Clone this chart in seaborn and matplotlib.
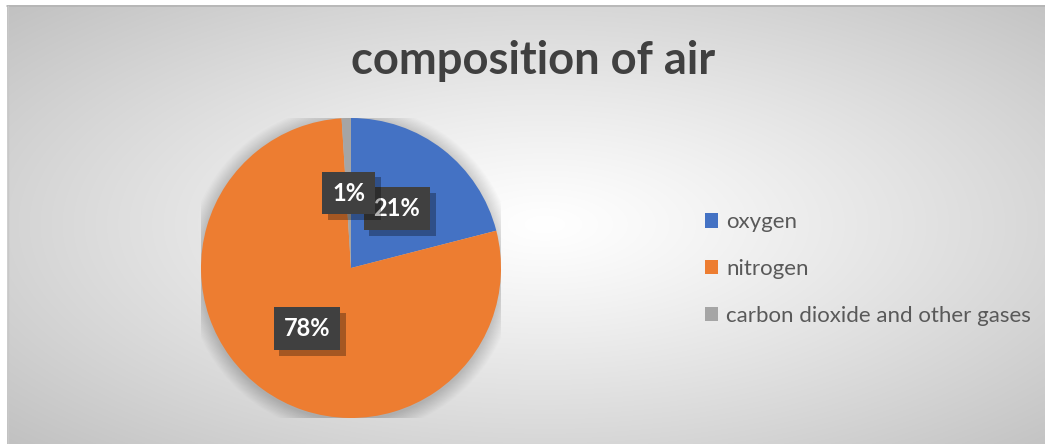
import numpy as np
import matplotlib
matplotlib.use("Agg")
import matplotlib.pyplot as plt
import matplotlib.patheffects as pe
from matplotlib.patches import Patch, Circle
import seaborn as sns

# ---- data ----
categories = ["oxygen", "nitrogen", "carbon dioxide and other gases"]
values = [21, 78, 1]
colors = ["#4472C4", "#ED7D31", "#A5A5A5"]
title = "composition of air"

sns.set_theme(style="white")
plt.rcParams["font.family"] = ["Lato", "DejaVu Sans"]

W, H = 1045, 444
fig = plt.figure(figsize=(W / 100, H / 100), dpi=100)
fig.patch.set_facecolor("white")

# background radial gradient (chart area)
bg = fig.add_axes([0, 0, 1, 1])
bg.set_xlim(0, W)
bg.set_ylim(H, 0)
bg.axis("off")
x0, y0, x1, y1 = 7, 6, W, H
xs = np.arange(x0, x1) + 0.5
ys = np.arange(y0, y1) + 0.5
X, Y = np.meshgrid(xs, ys)
cx, cy, ax_, ay_ = 545, 225, 520, 225
d = np.sqrt(((X - cx) / ax_) ** 2 + ((Y - cy) / ay_) ** 2) / 1.42
d = np.clip(d, 0, 1) ** 1.15
v = (255 - (255 - 193) * d) / 255.0
img = np.dstack([v, v, v])
bg.imshow(img, extent=(x0, x1, y1, y0), interpolation="bilinear", aspect="auto")
bg.plot([x0, x1], [y0 + 0.5, y0 + 0.5], color="#b4b4b4", lw=1.2)
bg.plot([x0 + 0.5, x0 + 0.5], [y0, y1], color="#c8c8c8", lw=1.0)

# pie axes
cxp, cyp, R = 351, 268, 150
ax = fig.add_axes([(cxp - R) / W, (H - cyp - R) / H, 2 * R / W, 2 * R / H])

# soft shadow around the pie
n = 22
for i in range(n):
    r = 1.0 + 0.0045 * (n - i)
    ax.add_patch(Circle((0, -0.012), r, facecolor="black", alpha=0.006, lw=0, zorder=0))

wedges, texts, autotexts = ax.pie(
    values, colors=colors, startangle=90, counterclock=False, radius=1.0,
    autopct="%1.0f%%", pctdistance=0.5,
    wedgeprops=dict(linewidth=0.0),
    textprops=dict(color="white", fontweight="bold", fontsize=17),
)
ax.set_xlim(-1, 1)
ax.set_ylim(-1, 1)
ax.set_aspect("equal")
ax.axis("off")

for i, t in enumerate(autotexts):
    t.set_bbox(dict(boxstyle="square,pad=0.42", facecolor="#404040", edgecolor="none"))
    t.get_bbox_patch().set_path_effects(
        [pe.withSimplePatchShadow(offset=(4, -4), shadow_rgbFace="black", alpha=0.3), pe.Normal()]
    )
    t.set_zorder(5 if i == 2 else 4)

# title
fig.text(533 / W, 1 - 61 / H, title, ha="center", va="center",
         fontsize=32.7, fontweight="bold", color="#404040")

# legend
handles = [Patch(facecolor=c, edgecolor="none") for c in colors]
leg = fig.legend(handles, categories, loc="center left",
                 bbox_to_anchor=(705 / W, 1 - 269 / H), frameon=False,
                 fontsize=16, labelcolor="#595959", handlelength=0.6,
                 handleheight=0.6, handletextpad=0.35, labelspacing=1.2,
                 borderaxespad=0, borderpad=0)

fig.savefig("out.png", dpi=100, facecolor="white")
